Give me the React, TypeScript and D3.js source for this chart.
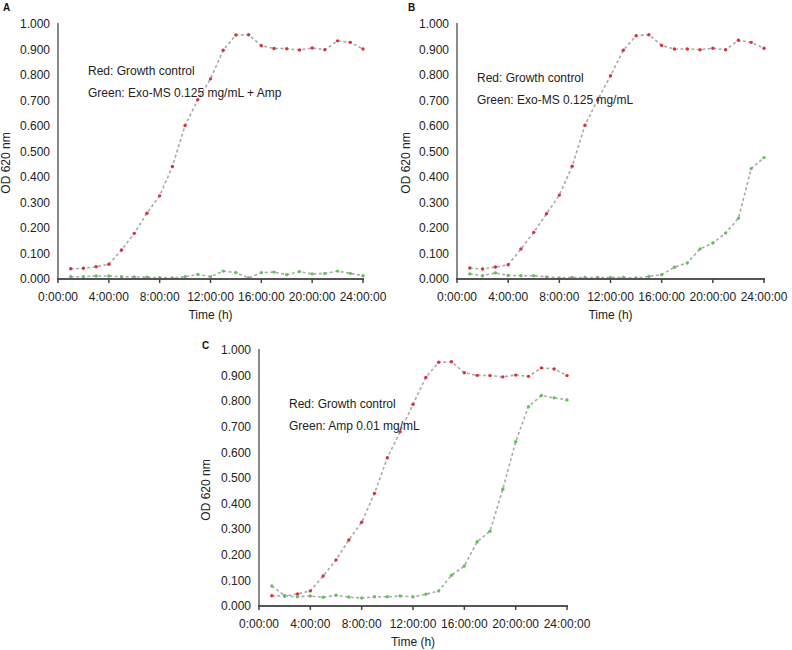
import React from "react";
import * as d3 from "d3";

const hours = [1, 2, 3, 4, 5, 6, 7, 8, 9, 10, 11, 12, 13, 14, 15, 16, 17, 18, 19, 20, 21, 22, 23, 24];
const xTickHours = [0, 4, 8, 12, 16, 20, 24];
const xTickLabels = ["0:00:00", "4:00:00", "8:00:00", "12:00:00", "16:00:00", "20:00:00", "24:00:00"];
const yTicks = [0, 0.1, 0.2, 0.3, 0.4, 0.5, 0.6, 0.7, 0.8, 0.9, 1.0];

const redA = [0.040, 0.042, 0.048, 0.058, 0.114, 0.179, 0.258, 0.326, 0.441, 0.602, 0.703, 0.785, 0.897, 0.957, 0.958, 0.915, 0.904, 0.903, 0.898, 0.906, 0.899, 0.934, 0.928, 0.902];
const greenA = [0.009, 0.009, 0.012, 0.012, 0.009, 0.008, 0.007, 0.005, 0.004, 0.009, 0.018, 0.009, 0.031, 0.025, 0.004, 0.025, 0.027, 0.017, 0.029, 0.020, 0.022, 0.031, 0.022, 0.013];

const redB = [0.043, 0.039, 0.047, 0.056, 0.118, 0.183, 0.256, 0.329, 0.442, 0.603, 0.703, 0.797, 0.897, 0.954, 0.958, 0.916, 0.902, 0.902, 0.899, 0.905, 0.899, 0.936, 0.928, 0.905];
const greenB = [0.020, 0.013, 0.024, 0.014, 0.013, 0.013, 0.008, 0.004, 0.006, 0.006, 0.006, 0.006, 0.006, 0.004, 0.010, 0.017, 0.046, 0.063, 0.118, 0.141, 0.180, 0.238, 0.433, 0.476];

const redC = [0.040, 0.039, 0.047, 0.059, 0.117, 0.180, 0.258, 0.327, 0.440, 0.579, 0.681, 0.788, 0.893, 0.952, 0.954, 0.911, 0.901, 0.900, 0.895, 0.902, 0.897, 0.930, 0.926, 0.900];
const greenC = [0.078, 0.040, 0.036, 0.039, 0.034, 0.042, 0.035, 0.031, 0.036, 0.036, 0.039, 0.036, 0.046, 0.059, 0.120, 0.156, 0.251, 0.292, 0.456, 0.642, 0.779, 0.822, 0.813, 0.805];

const panelLetters = ["A", "B", "C"];
const redLabel = "Red: Growth control";
const greenLabels = ["Green: Exo-MS 0.125 mg/mL + Amp", "Green: Exo-MS 0.125 mg/mL", "Green: Amp 0.01 mg/mL"];

const RED = "#d8313a";
const GREEN = "#62c25a";
const LINE = "#a9a9a9";
const FONT = "'Liberation Sans', Arial, sans-serif";

type PanelLayout = {
  x0: number; x1: number; yTop: number; yBot: number;
  letter: [number, number];
  text: [number, number];
  yTitle: [number, number];
};

const layouts: PanelLayout[] = [
  { x0: 58, x1: 363, yTop: 24, yBot: 279, letter: [3, 11], text: [88, 71], yTitle: [6, 163] },
  { x0: 457, x1: 764, yTop: 24, yBot: 279, letter: [408, 11], text: [477, 78], yTitle: [406, 163] },
  { x0: 259, x1: 567, yTop: 350, yBot: 606, letter: [202, 349], text: [289, 404], yTitle: [206, 490] },
];

const series = [
  [redA, greenA],
  [redB, greenB],
  [redC, greenC],
];

function Panel({ idx }: { idx: number }) {
  const L = layouts[idx];
  const x = d3.scaleLinear().domain([0, 24]).range([L.x0, L.x1]);
  const y = d3.scaleLinear().domain([0, 1]).range([L.yBot, L.yTop]);
  const line = d3.line<number>().x((_, i) => x(hours[i])).y((d) => y(d));
  const [red, green] = series[idx];
  const fmt = d3.format(".3f");
  return (
    <g fontFamily={FONT}>
      <text x={L.letter[0]} y={L.letter[1]} fontSize={10} fontWeight="bold" fill="#111">{panelLetters[idx]}</text>
      {/* y axis */}
      <line x1={L.x0} x2={L.x0} y1={L.yTop - 1} y2={L.yBot} stroke="#8a8a8a" strokeWidth={2} />
      {yTicks.map((t) => (
        <text key={t} x={L.x0 - 8} y={y(t)} dy="0.35em" textAnchor="end" fontSize={12} fill="#222">{fmt(t)}</text>
      ))}
      <text transform={`translate(${L.yTitle[0] + 4},${L.yTitle[1]}) rotate(-90)`} textAnchor="middle" fontSize={12} fill="#222">OD 620 nm</text>
      {/* series */}
      {[red, green].map((s, si) => (
        <g key={si}>
          <path d={line(s) || ""} fill="none" stroke={LINE} strokeWidth={1.6} strokeDasharray="3,2.5" />
          {s.map((v, i) => (
            <circle key={i} cx={x(hours[i])} cy={y(v)} r={1.7} fill={si === 0 ? RED : GREEN} />
          ))}
        </g>
      ))}
      {/* x axis */}
      <line x1={L.x0 - 1} x2={L.x1 + 1} y1={L.yBot} y2={L.yBot} stroke="#555" strokeWidth={2.2} />
      {xTickHours.map((h, i) => (
        <g key={h}>
          <line x1={x(h)} x2={x(h)} y1={L.yBot} y2={L.yBot + 4} stroke="#444" strokeWidth={1.5} />
          <text x={x(h)} y={L.yBot + 18} dy="0.35em" textAnchor="middle" fontSize={12} fill="#222">{xTickLabels[i]}</text>
        </g>
      ))}
      <text x={(L.x0 + L.x1) / 2} y={L.yBot + 36} dy="0.35em" textAnchor="middle" fontSize={12} fill="#222">Time (h)</text>
      {/* annotations */}
      <text x={L.text[0]} y={L.text[1]} dy="0.35em" fontSize={12} fill="#222">{redLabel}</text>
      <text x={L.text[0]} y={L.text[1] + 22} dy="0.35em" fontSize={12} fill="#222">{greenLabels[idx]}</text>
    </g>
  );
}

export default function App() {
  return (
    <svg width={792} height={650} style={{ position: "absolute", left: 0, top: 0, background: "#fff" }}>
      <rect width={792} height={650} fill="#fff" />
      {[0, 1, 2].map((i) => <Panel key={i} idx={i} />)}
    </svg>
  );
}
